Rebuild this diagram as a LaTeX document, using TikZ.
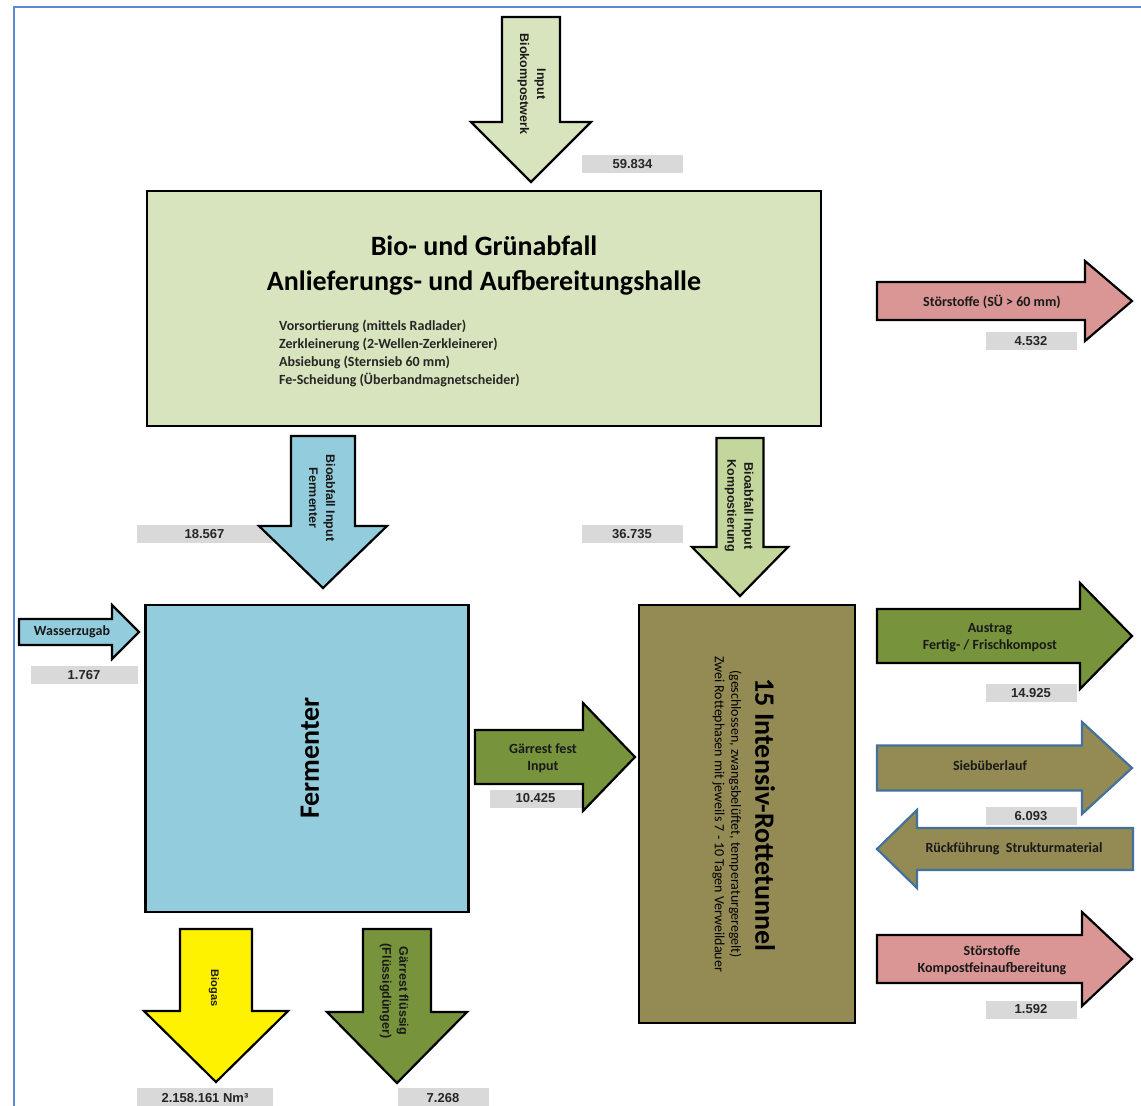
\documentclass[tikz,border=0pt]{standalone}
\usepackage{fontspec}
\setmainfont{Carlito}
\newfontfamily\arialf{Liberation Sans}
\definecolor{frameblue}{RGB}{91,137,214}
\definecolor{boxgreen}{RGB}{215,228,189}
\definecolor{midgreen}{RGB}{195,214,155}
\definecolor{fermblue}{RGB}{147,205,221}
\definecolor{pinkred}{RGB}{217,150,148}
\definecolor{darkgreen}{RGB}{119,147,60}
\definecolor{olive}{RGB}{148,138,84}
\definecolor{labgrey}{RGB}{217,217,217}
\definecolor{bordblue}{RGB}{65,113,156}
\definecolor{numtext}{RGB}{38,38,38}
\newcommand{\flowright}[7]{%
  \draw[#1] (#2,#5-#6) -- (#3,#5-#6) -- (#3,#5-#7) -- (#4,#5) -- (#3,#5+#7) -- (#3,#5+#6) -- (#2,#5+#6) -- cycle;}
\newcommand{\flowdown}[7]{%
  \draw[#1] (#5-#6,#2) -- (#5+#6,#2) -- (#5+#6,#3) -- (#5+#7,#3) -- (#5,#4) -- (#5-#7,#3) -- (#5-#6,#3) -- cycle;}
\tikzset{
  shp/.style={draw=black, line width=2.2pt, line join=miter},
  bshp/.style={draw=bordblue, line width=2.2pt, line join=miter},
  num/.style={fill=labgrey, inner sep=0pt, text=numtext, font=\arialf\bfseries\fontsize{13}{15}\selectfont},
  atext/.style={font=\bfseries\fontsize{14}{17}\selectfont, align=center, text=black!90},
  rtext/.style={font=\arialf\bfseries\fontsize{12.5}{17}\selectfont, align=center, rotate=-90, text=black!90},
}
\begin{document}
\begin{tikzpicture}[x=1pt,y=-1pt]
\useasboundingbox (0,0) rectangle (1141,1106);
% frame
\draw[frameblue, line width=1.8pt] (14,1106) -- (14,7) -- (1141,7);
% boxes
\node[shp, fill=boxgreen, minimum width=674pt, minimum height=235pt, inner sep=0pt] (halle) at (484,308.5) {};
\node[shp, fill=fermblue, minimum width=323pt, minimum height=307pt, inner sep=0pt] (ferm) at (307,758.5) {};
\node[shp, fill=olive, minimum width=216pt, minimum height=418pt, inner sep=0pt] (tunnel) at (747,814) {};
% number labels
\node[num, minimum width=101pt, minimum height=18pt] (n1) at (632.5,164) {59.834};
\node[num, minimum width=91pt, minimum height=18pt] (n2) at (1031,341) {4.532};
\node[num, minimum width=136pt, minimum height=18pt] (n3) at (204.5,534) {18.567};
\node[num, minimum width=101pt, minimum height=18pt] (n4) at (632,534) {36.735};
\node[num, minimum width=107pt, minimum height=18pt] (n5) at (84,675) {1.767};
\node[num, minimum width=92pt, minimum height=18pt] (n6) at (535.5,798.5) {10.425};
\node[num, minimum width=91pt, minimum height=18pt] (n7) at (1031,693) {14.925};
\node[num, minimum width=91pt, minimum height=18pt] (n8) at (1031,816) {6.093};
\node[num, minimum width=91pt, minimum height=18pt] (n9) at (1031,1009.5) {1.592};
\node[num, minimum width=136pt, minimum height=20pt] (n10) at (205,1098) {2.158.161 Nm³};
\node[num, minimum width=91pt, minimum height=20pt] (n11) at (443,1098) {7.268};
% arrows
\flowdown{shp, fill=boxgreen}{17}{122}{182}{531}{29}{60}
\flowright{shp, fill=pinkred}{877}{1085}{1132}{301}{19}{40}
\flowdown{shp, fill=fermblue}{436}{526}{588}{323}{32}{64}
\flowdown{shp, fill=midgreen}{438}{547}{596}{740}{23.5}{48}
\flowright{shp, fill=fermblue}{19}{112}{139}{632}{13}{27}
\flowright{shp, fill=darkgreen}{475}{583}{635}{757}{27}{54}
\flowright{shp, fill=darkgreen}{877}{1080}{1132}{636}{27}{53}
\flowright{bshp, fill=olive}{877}{1082}{1132}{768}{22.5}{46}
\flowright{bshp, fill=olive}{1133}{917}{877}{849}{21}{39}
\flowright{shp, fill=pinkred}{877}{1082}{1132}{959}{24}{47}
\flowdown{shp, fill=yellow}{929}{1011}{1082}{216}{36}{72}
\flowdown{shp, fill=darkgreen}{929}{1012}{1083}{397}{34}{70}
% box texts
\node[font=\bfseries\fontsize{28}{35}\selectfont, align=center] (title) at (484,266) {Bio- und Grünabfall\\Anlieferungs- und Aufbereitungshalle};
\node[font=\bfseries\fontsize{14}{17.7}\selectfont, align=left, anchor=west, inner sep=0pt, text=black!85] (steps) at (279,353.5) {Vorsortierung (mittels Radlader)\\Zerkleinerung (2-Wellen-Zerkleinerer)\\Absiebung (Sternsieb 60 mm)\\Fe-Scheidung (Überbandmagnetscheider)};
\node[font=\bfseries\fontsize{28}{32}\selectfont, rotate=90] (fermlbl) at (310,758) {Fermenter};
\node[font=\bfseries\fontsize{28}{32}\selectfont, rotate=-90] (tuntitle) at (765,815) {15 Intensiv-Rottetunnel};
\node[font=\fontsize{14}{16.5}\selectfont, rotate=-90, align=center] (tunsub) at (727,814) {(geschlossen, zwangsbelüftet, temperaturgeregelt)\\Zwei Rottephasen mit jeweils 7 - 10 Tagen Verweildauer};
% arrow texts
\node[atext] (t1) at (992,302) {Störstoffe (SÜ > 60 mm)};
\node[atext] (t2) at (990,638) {Austrag\\Fertig- / Frischkompost};
\node[atext] (t3) at (990,766) {Siebüberlauf};
\node[atext] (t4) at (1014,849) {Rückführung\ \ Strukturmaterial};
\node[atext] (t5) at (992,960.5) {Störstoffe\\Kompostfeinaufbereitung};
\node[atext] (t6) at (72,632) {Wasserzugab};
\node[atext] (t7) at (543,758.5) {Gärrest fest\\Input};
\node[rtext] (r1) at (531.5,84) {Input\\Biokompostwerk};
\node[rtext] (r2) at (322,498) {Bioabfall Input\\Fermenter};
\node[rtext] (r3) at (739,506) {Bioabfall Input\\Kompostierung};
\node[rtext, font=\arialf\bfseries\fontsize{11}{14}\selectfont] (r4) at (214,988) {Biogas};
\node[rtext] (r5) at (394,991) {Gärrest flüssig\\(Flüssigdünger)};
\end{tikzpicture}
\end{document}
